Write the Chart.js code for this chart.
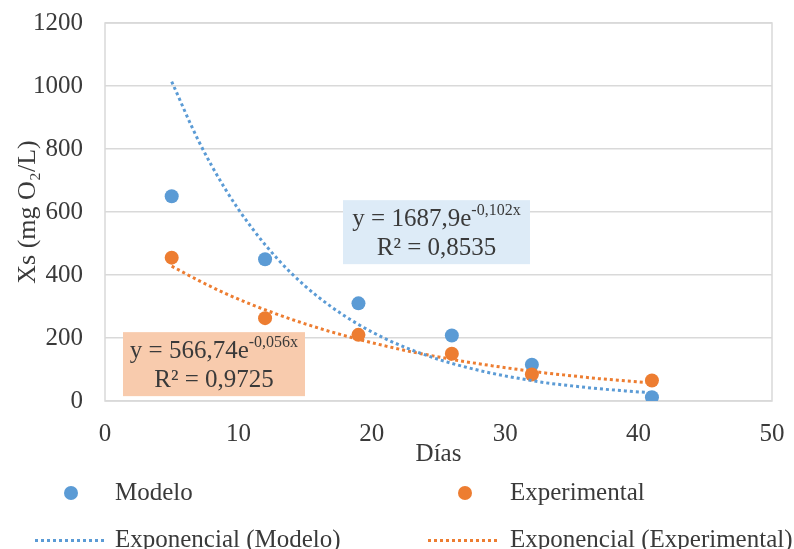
<!DOCTYPE html>
<html><head><meta charset="utf-8">
<script src="https://cdn.jsdelivr.net/npm/chart.js@4.4.1/dist/chart.umd.min.js"></script>
<style>
html,body{margin:0;padding:0;background:#fff;}
#wrap{position:relative;width:794px;height:549px;overflow:hidden;}
#c{position:absolute;left:0;top:0;}
.leg{position:absolute;font-family:'Liberation Serif','Times New Roman',serif;font-size:25px;color:#3a3a3a;line-height:28px;white-space:nowrap;}
.dot{position:absolute;width:14px;height:14px;border-radius:50%;}
.dash{position:absolute;height:3px;}
</style></head>
<body>
<div id="wrap"><canvas id="c" width="794" height="549"></canvas></div>
<script>
// ---- data ----
const days = [5, 12, 19, 26, 32, 41];
const modelo = [650, 450, 310, 208, 115, 12];
const experimental = [455, 263, 210, 150, 84, 65];
const trendDays = [5, 7, 9, 11, 13, 15, 17, 19, 21, 23, 25, 27, 29, 31, 33, 35, 37, 39, 41];
const trendModelo = [1014, 827, 674, 550, 448, 365, 298, 243, 198, 162, 132, 108, 88, 72, 58, 48, 39, 32, 26];
const trendExperimental = [428, 383, 342, 306, 274, 245, 219, 196, 175, 156, 140, 125, 112, 100, 89, 80, 71, 64, 57];
const xTickValues = [0, 10, 20, 30, 40, 50];
const yTickValues = [0, 200, 400, 600, 800, 1000, 1200];
const labels = ['Modelo', 'Experimental', 'Exponencial (Modelo)', 'Exponencial (Experimental)'];
const eqModelo = ['y = 1687,9e', '-0,102x', 'R² = 0,8535'];
const eqExperimental = ['y = 566,74e', '-0,056x', 'R² = 0,9725'];
const xTitle = 'Días';
const yTitle = 'Xs (mg O₂/L)';

// ---- styles ----
const FONT = "'Liberation Serif','Times New Roman',serif";
const BLUE = '#5B9BD5', ORANGE = '#ED7D31', TXT = '#3a3a3a', GRID = '#d9d9d9';

const pts = (xs, ys) => xs.map((v, i) => ({x: v, y: ys[i]}));

const boxes = [
  {eq: eqModelo, cx: 24.85, cy: 536, w: 187, h: 64, fill: '#DDEBF7'},
  {eq: eqExperimental, cx: 8.17, cy: 117, w: 182, h: 64, fill: '#F8CBAD'}
];

const framePlugin = {
  id: 'frame',
  beforeDatasetsDraw(chart) {
    const {ctx, chartArea: a} = chart;
    ctx.save();
    ctx.strokeStyle = GRID; ctx.lineWidth = 1.5;
    ctx.strokeRect(a.left, a.top, a.right - a.left, a.bottom - a.top);
    ctx.restore();
  }
};

const eqPlugin = {
  id: 'eqBoxes',
  afterDatasetsDraw(chart) {
    const {ctx, scales: {x, y}} = chart;
    boxes.forEach(b => {
      const cx = x.getPixelForValue(b.cx), cy = y.getPixelForValue(b.cy);
      const l = cx - b.w / 2, t = cy - b.h / 2;
      ctx.save();
      ctx.fillStyle = b.fill;
      ctx.fillRect(l, t, b.w, b.h);
      ctx.fillStyle = TXT;
      ctx.textBaseline = 'middle';
      ctx.textAlign = 'left';
      ctx.font = '25px ' + FONT;
      const w1 = ctx.measureText(b.eq[0]).width;
      ctx.font = '16px ' + FONT;
      const w2 = ctx.measureText(b.eq[1]).width;
      const sx = cx - (w1 + w2) / 2;
      ctx.font = '25px ' + FONT;
      ctx.fillText(b.eq[0], sx, t + 19);
      ctx.font = '16px ' + FONT;
      ctx.fillText(b.eq[1], sx + w1, t + 11);
      ctx.font = '25px ' + FONT;
      ctx.textAlign = 'center';
      ctx.fillText(b.eq[2], cx, t + 48);
      ctx.restore();
    });
  }
};

new Chart(document.getElementById('c'), {
  type: 'scatter',
  data: {
    datasets: [
      {label: labels[2], data: pts(trendDays, trendModelo), showLine: true, pointRadius: 0,
       borderColor: BLUE, borderWidth: 3, borderDash: [3, 3], cubicInterpolationMode: 'monotone', fill: false},
      {label: labels[3], data: pts(trendDays, trendExperimental), showLine: true, pointRadius: 0,
       borderColor: ORANGE, borderWidth: 3, borderDash: [3, 3], cubicInterpolationMode: 'monotone', fill: false},
      {label: labels[1], data: pts(days, experimental), pointRadius: 7, pointBackgroundColor: ORANGE,
       backgroundColor: ORANGE, borderWidth: 0, pointBorderWidth: 0},
      {label: labels[0], data: pts(days, modelo), pointRadius: 7, pointBackgroundColor: BLUE,
       backgroundColor: BLUE, borderWidth: 0, pointBorderWidth: 0}
    ]
  },
  options: {
    responsive: false,
    animation: false,
    layout: {padding: {left: 0, right: 22, top: 23, bottom: 78}},
    plugins: {legend: {display: false}, tooltip: {enabled: false}},
    scales: {
      x: {
        type: 'linear',
        min: xTickValues[0], max: xTickValues[xTickValues.length - 1],
        afterBuildTicks: s => { s.ticks = xTickValues.map(v => ({value: v})); },
        ticks: {color: TXT, font: {family: FONT, size: 25}, padding: 10, callback: v => String(v)},
        grid: {display: false},
        border: {display: false},
        title: {display: true, text: xTitle, color: TXT, font: {family: FONT, size: 25}, padding: {top: 0, bottom: 2}},
        afterFit: s => { s.height = 70; s.paddingLeft = 0; s.paddingRight = 0; }
      },
      y: {
        min: yTickValues[0], max: yTickValues[yTickValues.length - 1],
        afterBuildTicks: s => { s.ticks = yTickValues.map(v => ({value: v})); },
        ticks: {color: TXT, font: {family: FONT, size: 25}, padding: 22, callback: v => String(v)},
        grid: {color: GRID, lineWidth: 1.5, drawTicks: false},
        border: {display: false},
        title: {display: true, text: yTitle, color: TXT, font: {family: FONT, size: 26}, padding: {top: 13, bottom: 0}},
        afterFit: s => { s.width = 105; s.paddingTop = 0; s.paddingBottom = 0; }
      }
    }
  },
  plugins: [framePlugin, eqPlugin]
});

// ---- HTML legend ----
const wrap = document.getElementById('wrap');
const legendItems = [
  {text: labels[0], kind: 'dot', color: BLUE, mx: 71, tx: 115, cy: 493},
  {text: labels[1], kind: 'dot', color: ORANGE, mx: 465, tx: 510, cy: 493},
  {text: labels[2], kind: 'dash', color: BLUE, mx: 35, tx: 115, cy: 540},
  {text: labels[3], kind: 'dash', color: ORANGE, mx: 428, tx: 510, cy: 540}
];
legendItems.forEach(it => {
  const m = document.createElement('div');
  if (it.kind === 'dot') {
    m.className = 'dot';
    m.style.left = (it.mx - 7) + 'px';
    m.style.top = (it.cy - 7) + 'px';
    m.style.background = it.color;
  } else {
    m.className = 'dash';
    m.style.left = it.mx + 'px';
    m.style.top = (it.cy - 1.5) + 'px';
    m.style.width = '72px';
    m.style.background = 'repeating-linear-gradient(to right,' + it.color + ' 0 3px, transparent 3px 6px)';
  }
  wrap.appendChild(m);
  const t = document.createElement('div');
  t.className = 'leg';
  t.textContent = it.text;
  t.style.left = it.tx + 'px';
  t.style.top = (it.cy - 15) + 'px';
  wrap.appendChild(t);
});
</script>
</body></html>
